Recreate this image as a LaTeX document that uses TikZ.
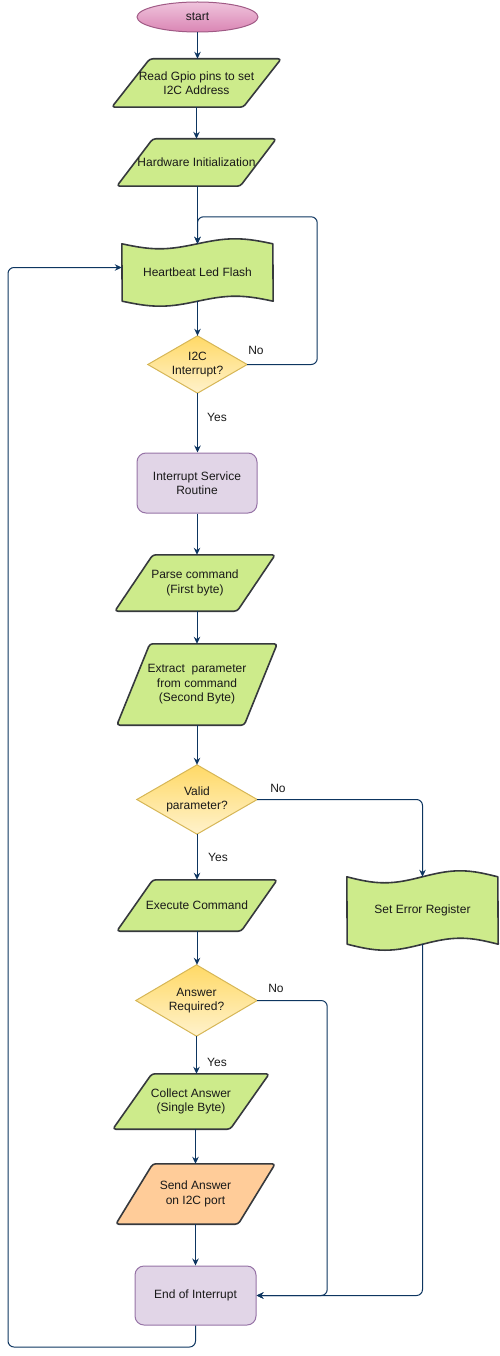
\documentclass[tikz,border=0pt]{standalone}
\usepackage{fontspec}
\setmainfont{Liberation Sans}
\usetikzlibrary{arrows.meta,calc,shapes.geometric}
\pgfdeclarelayer{bg}
\pgfsetlayers{bg,main}
\definecolor{navy}{HTML}{0D3560}
\definecolor{dk}{HTML}{36393D}
\definecolor{greenf}{HTML}{CDEB8B}
\definecolor{purf}{HTML}{E1D5E7}
\definecolor{purd}{HTML}{9673A6}
\definecolor{oraf}{HTML}{FFCC99}
\definecolor{yeltop}{HTML}{FFD966}
\definecolor{yelbot}{HTML}{FFF2CC}
\definecolor{yeld}{HTML}{D6B656}
\definecolor{pinktop}{HTML}{EFC3DC}
\definecolor{pinkbot}{HTML}{DA86B4}
\definecolor{pinkd}{HTML}{A05A85}
\tikzset{
  txt/.style={font=\fontsize{12}{14.5}\selectfont, text=black!90},
  box/.style={rectangle, inner sep=0pt, align=center, txt},
  lbl/.style={inner sep=0pt, txt},
  conn/.style={draw=navy, line width=1pt, rounded corners=6pt, -{Stealth[length=7pt,width=6.5pt]}},
  greenshape/.style={draw=dk, line width=1.6pt, fill=greenf, line join=round},
  orashape/.style={draw=dk, line width=1.6pt, fill=oraf, line join=round},
  tapestyle/.style={draw=dk, line width=1.6pt, fill=greenf, line join=round},
  diastyle/.style={draw=yeld, line width=1pt, top color=yeltop, bottom color=yelbot},
  purbox/.style={box, draw=purd, line width=1pt, fill=purf, rounded corners=9pt},
  termin/.style={ellipse, inner sep=0pt, txt, draw=pinkd, line width=1pt, top color=pinktop, bottom color=pinkbot}
}
\newcommand\mkpara[8]{%
  \node[box,minimum width=#4pt,minimum height=#5pt] (#1) at (#2,#3) {#8};
  \begin{pgfonlayer}{bg}
  \draw[#7, rounded corners=3pt] (#1.south west) -- ([xshift=#6pt]#1.north west) -- (#1.north east) -- ([xshift=-#6pt]#1.south east) -- cycle;
  \end{pgfonlayer}}
\newcommand\mktape[7]{%
  \node[box,minimum width=#4pt,minimum height=#5pt] (#1) at (#2,#3) {#7};
  \begin{pgfonlayer}{bg}
  \draw[tapestyle] (#1.north west) sin ++({#4/4},#6) cos ++({#4/4},-#6) sin ++({#4/4},-#6) cos ++({#4/4},#6)
    -- (#1.south east) sin ++({-#4/4},-#6) cos ++({-#4/4},#6) sin ++({-#4/4},#6) cos ++({-#4/4},-#6) -- cycle;
  \end{pgfonlayer}}
\newcommand\mkdia[6]{%
  \node[box,minimum width=#4pt,minimum height=#5pt] (#1) at (#2,#3) {#6};
  \begin{pgfonlayer}{bg}
  \draw[diastyle] (#1.north) -- (#1.east) -- (#1.south) -- (#1.west) -- cycle;
  \end{pgfonlayer}}
\begin{document}
\begin{tikzpicture}[x=1pt,y=-1pt]
\useasboundingbox (0,0) rectangle (499,1356);
% nodes
\node[termin, minimum width=121pt, minimum height=30pt] (start) at (197.5,17) {start};
\mkpara{gpio}{196.5}{83}{169}{48}{38}{greenshape}{Read Gpio pins to set\\ I2C Address}
\mkpara{hw}{196.5}{162.5}{159}{47}{36}{greenshape}{Hardware Initialization}
\mktape{hb}{197.5}{272.5}{151}{57}{5}{Heartbeat Led Flash}
\mkdia{irq}{197.5}{364.5}{99}{57}{I2C\\Interrupt?}
\node[purbox, minimum width=120pt, minimum height=60pt] (isr) at (197,483) {Interrupt Service\\Routine};
\mkpara{parse}{195}{583}{160}{56}{38}{greenshape}{Parse command\\ (First byte)}
\mkpara{extract}{197}{684.5}{160}{81}{33}{greenshape}{Extract\ \ parameter\\ from command\\ (Second Byte)}
\mkdia{valid}{197}{799.5}{120}{69}{Valid\\parameter?}
\mkpara{exec}{197}{905.5}{160}{51}{36}{greenshape}{Execute Command}
\mktape{err}{422.5}{910.5}{151}{67}{6}{Set Error Register}
\mkdia{ansreq}{196.5}{1000.5}{121}{71}{Answer\\Required?}
\mkpara{collect}{191}{1101.5}{156}{55}{39}{greenshape}{Collect Answer\\(Single Byte)}
\mkpara{send}{195.5}{1194}{159}{60}{37}{orashape}{Send Answer\\ on I2C port}
\node[purbox, minimum width=121pt, minimum height=59pt] (eoi) at (195.5,1295.5) {End of Interrupt};
% labels
\node[lbl] (l1) at (256,350) {No};
\node[lbl] (l2) at (217,417) {Yes};
\node[lbl] (l3) at (278,788) {No};
\node[lbl] (l4) at (218,857) {Yes};
\node[lbl] (l5) at (276,988) {No};
\node[lbl] (l6) at (217,1062) {Yes};
\coordinate (lb) at (8,1347);
% connectors
\draw[conn] (start.south) -- (start.south |- gpio.north);
\draw[conn] (gpio.south) -- (gpio.south |- hw.north);
\draw[conn] (hb.north |- hw.south) -- (hb.north);
\draw[conn] (irq.east) -- ++(70,0) |- ($(hb.north)+(0,-27)$) -- (hb.north);
\draw[conn] (irq.north |- hb.south) -- (irq.north);
\draw[conn] (irq.south) -- (irq.south |- isr.north);
\draw[conn] (isr.south) -- (isr.south |- parse.north);
\draw[conn] (extract.north |- parse.south) -- (extract.north);
\draw[conn] (extract.south) -- (extract.south |- valid.north);
\draw[conn] (valid.south) -- (valid.south |- exec.north);
\draw[conn] (valid.east) -| (err.north);
\draw[conn] (exec.south) -- (exec.south |- ansreq.north);
\draw[conn] (ansreq.south) -- (ansreq.south |- collect.north);
\draw[conn] (send.north |- collect.south) -- (send.north);
\draw[conn] (send.south) -- (send.south |- eoi.north);
\draw[conn] (ansreq.east) -- ++(70,0) |- (eoi.east);
\draw[conn] (err.south) |- (eoi.east);
\draw[conn] (eoi.south) |- (lb) |- ($(hb.west)+(0,-5)$);
\end{tikzpicture}
\end{document}
